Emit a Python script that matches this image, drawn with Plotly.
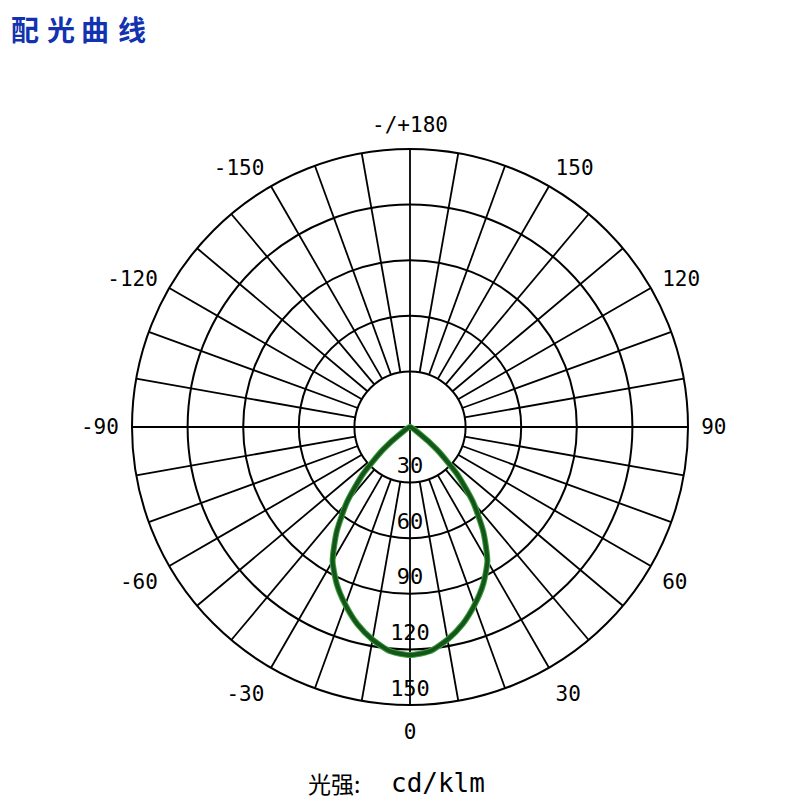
import plotly.graph_objects as go

# ---- data ----
angles = [-60, -55, -50, -45, -40, -35, -30, -25, -20, -15, -10, -5, 0,
          5, 10, 15, 20, 25, 30, 35, 40, 45, 50, 55, 60]
intensity = [0, 6, 19, 36, 53, 69, 83.5, 93.5, 102, 110, 116.5, 121.5, 123,
             121.5, 116.5, 110, 102, 93.5, 83.5, 69, 53, 36, 19, 6, 0]

angular_tickvals = [0, 30, 60, 90, 120, 150, 180, 210, 240, 270, 300, 330]
angular_ticktext = ["0", "30", "60", "90", "120", "150", "-/+180",
                    "-150", "-120", "-90", "-60", "-30"]
radial_tickvals = [30, 60, 90, 120, 150]
radial_ticktext = ["30", "60", "90", "120", "150"]
spoke_angles = list(range(0, 360, 10))

R_MAX = 150
NUM_FONT = "DejaVu Sans Mono"
OFF = 8  # page body margin

fig = go.Figure()

# spokes: main axes from centre, others from the first ring
sp_r, sp_t = [], []
for a in spoke_angles:
    start = 0 if a % 90 == 0 else radial_tickvals[0]
    sp_r += [start, R_MAX, None]
    sp_t += [a, a, None]
fig.add_trace(go.Scatterpolar(r=sp_r, theta=sp_t, mode="lines",
                              line=dict(color="black", width=1.8),
                              hoverinfo="skip", showlegend=False))

# light distribution curve
fig.add_trace(go.Scatterpolar(r=intensity, theta=angles, mode="lines",
                              line=dict(color="#3f9f3f", width=6, shape="spline", smoothing=0.6),
                              hoverinfo="skip", showlegend=False))
fig.add_trace(go.Scatterpolar(r=intensity, theta=angles, mode="lines",
                              line=dict(color="#14561a", width=4, shape="spline", smoothing=0.6),
                              showlegend=False))

# radial labels along the 0 direction, just inside each ring
fig.add_trace(go.Scatterpolar(r=[v - 8 for v in radial_tickvals],
                              theta=[0] * len(radial_tickvals),
                              mode="text", text=radial_ticktext,
                              textposition="middle center",
                              textfont=dict(family=NUM_FONT, size=22, color="black"),
                              hoverinfo="skip", showlegend=False))

cx, cy, rad = 410 - OFF, 427 - OFF, 278
W, H = 792, 797
fig.update_layout(
    width=W, height=H, autosize=False,
    margin=dict(l=0, r=0, t=0, b=0),
    paper_bgcolor="white",
    polar=dict(
        domain=dict(x=[(cx - rad) / W, (cx + rad) / W],
                    y=[(H - cy - rad) / H, (H - cy + rad) / H]),
        bgcolor="white",
        angularaxis=dict(rotation=-90, direction="counterclockwise",
                         tickmode="array", tickvals=angular_tickvals,
                         ticktext=angular_ticktext, showgrid=False,
                         showline=True, linecolor="black", linewidth=2,
                         ticks="outside", ticklen=8, tickcolor="rgba(0,0,0,0)",
                         tickfont=dict(family=NUM_FONT, size=21, color="black")),
        radialaxis=dict(range=[0, R_MAX], tickvals=radial_tickvals,
                        showticklabels=False, showline=False, ticks="",
                        gridcolor="black", gridwidth=1.8),
    ),
)

# title, character by character
title_chars = ["配", "光", "曲", "线"]
title_x = [25, 61, 95, 132]
for ch, x in zip(title_chars, title_x):
    fig.add_annotation(x=(x - OFF) / W, y=1.0, xref="paper", yref="paper",
                       text="<b>" + ch + "</b>", showarrow=False,
                       font=dict(family="Noto Sans CJK SC", size=28, color="#1232b0"),
                       xanchor="center", yanchor="top", borderpad=0)

# unit label
fig.add_annotation(x=(334 - OFF) / W, y=1 - (783 - OFF) / H, xref="paper", yref="paper",
                   text="光强:", showarrow=False,
                   font=dict(family="Noto Sans CJK SC", size=23, color="black"),
                   xanchor="center", yanchor="middle")
fig.add_annotation(x=(438 - OFF) / W, y=1 - (783 - OFF) / H, xref="paper", yref="paper",
                   text="cd/klm", showarrow=False,
                   font=dict(family="DejaVu Sans Mono", size=26, color="black"),
                   xanchor="center", yanchor="middle")

fig.write_html("out.html")
